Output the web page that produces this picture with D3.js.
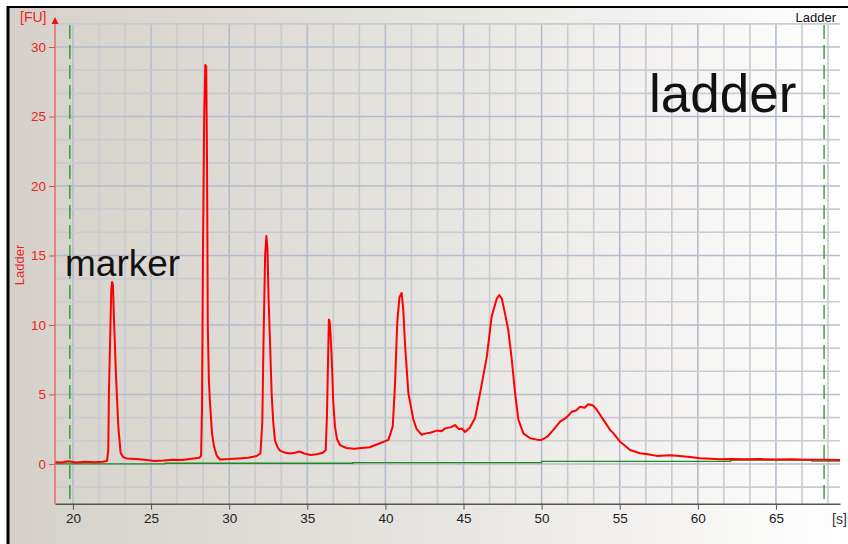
<!DOCTYPE html>
<html>
<head>
<meta charset="utf-8">
<script src="https://cdn.jsdelivr.net/npm/d3@7"></script>
<style>
  html, body { margin: 0; padding: 0; background: #fff; }
  svg { display: block; }
</style>
</head>
<body>
<div id="chart"></div>
<script>
// electropherogram data
const traceTime = [
  18.85, 19.3, 19.7, 20.2, 20.8, 21.4, 21.9, 22.18, 22.26, 22.3, 22.38, 22.45, 22.5, 22.56, 22.62, 22.75, 22.9, 23.05, 23.2, 23.44,
  24.0, 24.6, 25.2, 25.8, 26.4, 27.0, 27.6, 28.1, 28.2, 28.26, 28.32, 28.4, 28.47, 28.53, 28.58, 28.63, 28.7, 28.77, 28.9, 29.03,
  29.2, 29.41, 30.0, 30.6, 31.2, 31.76, 32.0, 32.12, 32.2, 32.3, 32.38, 32.45, 32.52, 32.62, 32.72, 32.82, 32.93, 33.1, 33.25, 33.6,
  33.9, 34.2, 34.5, 34.8, 35.2, 35.6, 36.0, 36.18, 36.26, 36.32, 36.38, 36.44, 36.5, 36.56, 36.66, 36.77, 36.9, 37.1, 37.5, 38.0,
  38.5, 39.0, 39.65, 40.19, 40.47, 40.61, 40.76, 40.9, 41.04, 41.15, 41.25, 41.47, 41.79, 42.0, 42.32, 42.6, 42.86, 43.3, 43.6, 43.82,
  44.2, 44.46, 44.7, 44.9, 45.1, 45.4, 45.74, 46.06, 46.49, 46.8, 47.13, 47.29, 47.45, 47.66, 47.87, 48.09, 48.3, 48.51, 48.83, 49.26,
  49.7, 50.0, 50.2, 50.4, 50.75, 51.18, 51.6, 51.93, 52.2, 52.46, 52.75, 52.99, 53.3, 53.53, 54.0, 54.38, 54.6, 55.02, 55.3, 55.66,
  56.3, 56.8, 57.37, 58.2, 58.86, 59.5, 60.14, 60.8, 61.42, 62.2, 63.0, 64.0, 65.0, 66.0, 67.0, 68.0, 69.1
];
const traceFU = [
  0.12, 0.10, 0.20, 0.10, 0.15, 0.12, 0.16, 0.22, 1.0, 5.0, 9.0, 12.5, 13.1, 12.9, 10.6, 6.5, 2.7, 0.8, 0.5, 0.4,
  0.35, 0.30, 0.22, 0.25, 0.30, 0.28, 0.38, 0.45, 0.6, 4.0, 15.0, 25.0, 28.7, 28.6, 22.0, 10.0, 6.0, 4.4, 2.2, 1.25,
  0.6, 0.32, 0.35, 0.40, 0.45, 0.57, 0.75, 3.0, 9.0, 15.0, 16.4, 15.5, 12.0, 8.5, 5.0, 3.0, 1.7, 1.2, 0.96, 0.8,
  0.75, 0.8, 0.9, 0.75, 0.65, 0.7, 0.8, 1.0, 3.5, 7.0, 10.4, 10.2, 9.0, 7.7, 4.5, 2.7, 1.8, 1.35, 1.15, 1.1,
  1.15, 1.2, 1.49, 1.73, 2.7, 5.6, 10.2, 12.0, 12.3, 11.0, 8.7, 5.1, 3.2, 2.5, 2.1, 2.2, 2.25, 2.4, 2.35, 2.56,
  2.65, 2.8, 2.5, 2.55, 2.3, 2.6, 3.3, 5.1, 7.7, 10.6, 11.9, 12.16, 11.9, 10.8, 9.6, 7.5, 5.1, 3.2, 2.2, 1.85,
  1.75, 1.73, 1.85, 2.0, 2.45, 3.04, 3.35, 3.76, 3.85, 4.12, 4.05, 4.3, 4.2, 3.9, 3.1, 2.45, 2.2, 1.6, 1.35, 1.0,
  0.77, 0.7, 0.58, 0.62, 0.58, 0.5, 0.41, 0.38, 0.34, 0.36, 0.33, 0.35, 0.32, 0.33, 0.30, 0.31, 0.29
];

// green baseline (step line)
const baseTime = [18.85, 25.9, 37.9, 50.0, 62.1, 67.3, 69.1];
const baseFU = [0, 0.05, 0.1, 0.18, 0.28, 0.2, 0.2];

// dashed marker lines
const markerTimes = [19.8, 68.08];

// axes
const xTicks = [20, 25, 30, 35, 40, 45, 50, 55, 60, 65];
const yTicks = [0, 5, 10, 15, 20, 25, 30];

const W = 848, H = 544;
const font = "'Liberation Sans', Arial, sans-serif";

const x = d3.scaleLinear().domain([18.85, 69.1]).range([55, 840]);
const y = d3.scaleLinear().domain([-2.86, 31.67]).range([503.7, 23.8]);

const svg = d3.select("#chart").append("svg")
  .attr("width", W)
  .attr("height", H);

// fondo con degradado
const defs = svg.append("defs");
const grad = defs.append("linearGradient")
  .attr("id", "bg")
  .attr("x1", "0%").attr("x2", "100%")
  .attr("y1", "0%").attr("y2", "0%");
grad.append("stop").attr("offset", "0%").attr("stop-color", "#d5d1ca");
grad.append("stop").attr("offset", "50%").attr("stop-color", "#e6e4e0");
grad.append("stop").attr("offset", "100%").attr("stop-color", "#ffffff");

svg.append("rect")
  .attr("x", 8).attr("y", 7)
  .attr("width", W - 8).attr("height", H - 7)
  .attr("fill", "url(#bg)");

// marco negro
svg.append("line")
  .attr("x1", 8).attr("x2", 8).attr("y1", 6).attr("y2", H)
  .attr("stroke", "#000").attr("stroke-width", 3);
svg.append("line")
  .attr("x1", 7).attr("x2", W).attr("y1", 7).attr("y2", 7)
  .attr("stroke", "#000").attr("stroke-width", 2);

// grid
const xGrid = d3.range(20, 69.1, 5 / 3);
const yGrid = d3.range(-5 / 3, 31.7, 5 / 3);
const isMajor = v => Math.abs(v / 5 - Math.round(v / 5)) < 1e-6;

const grid = svg.append("g");
grid.selectAll("line.vx")
  .data(xGrid)
  .enter()
  .append("line")
  .attr("x1", d => x(d)).attr("x2", d => x(d))
  .attr("y1", y.range()[1]).attr("y2", y.range()[0])
  .attr("stroke", d => isMajor(d) ? "#b3bccd" : "#c9cbd0")
  .attr("stroke-width", 1.6);
grid.selectAll("line.hy")
  .data(yGrid)
  .enter()
  .append("line")
  .attr("x1", x.range()[0]).attr("x2", x.range()[1])
  .attr("y1", d => y(d)).attr("y2", d => y(d))
  .attr("stroke", d => isMajor(d) ? "#b3bccd" : "#c9cbd0")
  .attr("stroke-width", 1.6);

// linea base verde
svg.append("path")
  .datum(baseTime.map((t, i) => [t, baseFU[i]]))
  .attr("fill", "none")
  .attr("stroke", "#1f8a1f")
  .attr("stroke-width", 1.3)
  .attr("d", d3.line().x(d => x(d[0])).y(d => y(d[1])).curve(d3.curveStepAfter));

// lineas punteadas verdes
svg.selectAll("line.marker")
  .data(markerTimes)
  .enter()
  .append("line")
  .attr("x1", d => x(d)).attr("x2", d => x(d))
  .attr("y1", 25).attr("y2", y.range()[0])
  .attr("stroke", "#249224")
  .attr("stroke-width", 1.3)
  .attr("stroke-dasharray", "14,6");

// traza roja
svg.append("path")
  .datum(traceTime.map((t, i) => [t, traceFU[i]]))
  .attr("fill", "none")
  .attr("stroke", "#ff0000")
  .attr("stroke-width", 2)
  .attr("stroke-linejoin", "round")
  .attr("d", d3.line().x(d => x(d[0])).y(d => y(d[1])));

// eje x
const xAxis = svg.append("g")
  .attr("transform", `translate(0,${y.range()[0]})`)
  .call(d3.axisBottom(x).tickValues(xTicks).tickSize(6).tickSizeOuter(0).tickPadding(4));
xAxis.select(".domain").attr("stroke", "#555").attr("stroke-width", 1.5);
xAxis.selectAll(".tick line").attr("stroke", "#555");
xAxis.selectAll(".tick text")
  .attr("font-family", font)
  .attr("font-size", 13.5)
  .attr("fill", "#222");

// eje y
const yAxis = svg.append("g")
  .attr("transform", `translate(${x.range()[0]},0)`)
  .call(d3.axisLeft(y).tickValues(yTicks).tickSize(6).tickSizeOuter(0).tickPadding(3));
yAxis.select(".domain").remove();
yAxis.selectAll(".tick line").attr("stroke", "#ee4444");
yAxis.selectAll(".tick text")
  .attr("font-family", font)
  .attr("font-size", 13.5)
  .attr("fill", "#ee2222");

svg.append("line")
  .attr("x1", 55).attr("x2", 55)
  .attr("y1", y.range()[0]).attr("y2", 22)
  .attr("stroke", "#ee5a5a").attr("stroke-width", 1.3);
svg.append("path")
  .attr("d", "M55,17 L58.5,24 L51.5,24 Z")
  .attr("fill", "#ee1111");

// textos
svg.append("text")
  .attr("x", 20).attr("y", 22)
  .attr("font-family", font).attr("font-size", 14)
  .attr("fill", "#ee2222")
  .text("[FU]");

svg.append("text")
  .attr("transform", "translate(24,265) rotate(-90)")
  .attr("text-anchor", "middle")
  .attr("font-family", font).attr("font-size", 13)
  .attr("fill", "#ee2222")
  .text("Ladder");

svg.append("text")
  .attr("x", 836).attr("y", 22)
  .attr("text-anchor", "end")
  .attr("font-family", font).attr("font-size", 13)
  .attr("fill", "#111")
  .text("Ladder");

svg.append("text")
  .attr("x", 832).attr("y", 524)
  .attr("font-family", font).attr("font-size", 14)
  .attr("fill", "#333")
  .text("[s]");

svg.append("text")
  .attr("x", 65).attr("y", 276)
  .attr("font-family", font).attr("font-size", 37)
  .attr("fill", "#111")
  .text("marker");

svg.append("text")
  .attr("x", 649).attr("y", 112)
  .attr("font-family", font).attr("font-size", 53)
  .attr("fill", "#111")
  .text("ladder");
</script>
</body>
</html>
